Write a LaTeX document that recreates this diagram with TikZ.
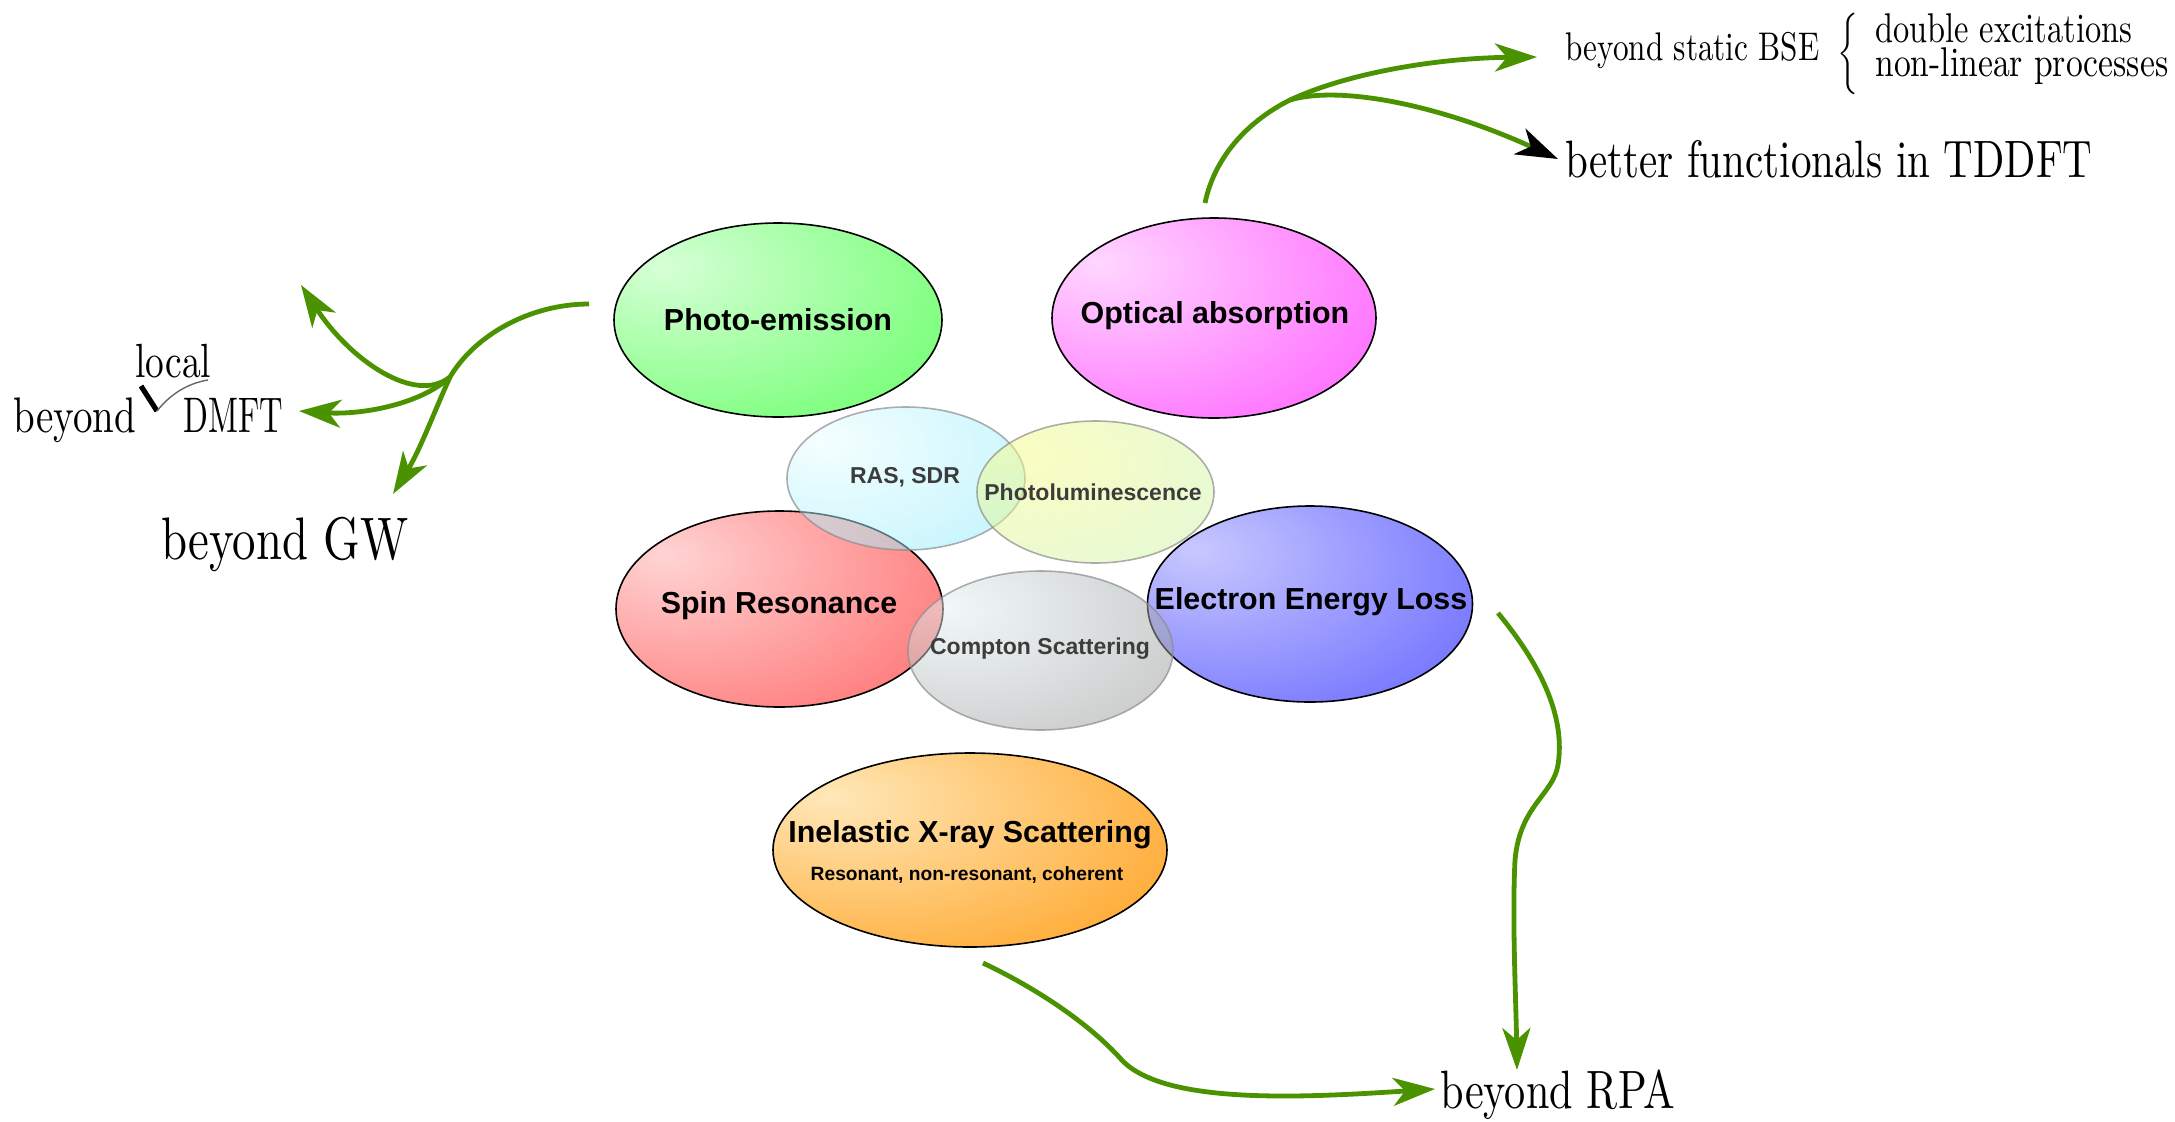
\documentclass[tikz,border=0pt]{standalone}
\usepackage{fontspec}
\newfontfamily\sansf{Liberation Sans}
\usetikzlibrary{shapes.geometric,arrows.meta}
\makeatletter
\pgfdeclareradialshading[tikz@radial@inner,tikz@radial@outer]{glow}{\pgfpoint{-18bp}{14bp}}{color(0bp)=(tikz@radial@inner);color(50bp)=(tikz@radial@outer);color(100bp)=(tikz@radial@outer)}
\makeatother
\definecolor{arrgreen}{RGB}{74,146,0}
\definecolor{labgrey}{RGB}{60,60,60}
\definecolor{peIn}{RGB}{215,255,215}\definecolor{peOut}{RGB}{100,255,100}
\definecolor{oaIn}{RGB}{255,215,255}\definecolor{oaOut}{RGB}{255,90,255}
\definecolor{srIn}{RGB}{255,212,212}\definecolor{srOut}{RGB}{255,105,105}
\definecolor{eeIn}{RGB}{200,200,255}\definecolor{eeOut}{RGB}{100,100,255}
\definecolor{ixIn}{RGB}{255,232,185}\definecolor{ixOut}{RGB}{255,158,25}
\definecolor{raIn}{RGB}{235,255,255}\definecolor{raOut}{RGB}{125,232,250}
\definecolor{plIn}{RGB}{248,252,130}\definecolor{plOut}{RGB}{200,242,180}
\definecolor{csIn}{RGB}{228,242,242}\definecolor{csOut}{RGB}{135,135,135}
\newcommand\cnd[3]{\scalebox{#1}[#2]{\fontsize{10}{12}\selectfont #3}}
\tikzset{
  big/.style={ellipse, draw=black, line width=0.8pt, inner sep=0pt},
  pale/.style={ellipse, draw=black!45, line width=0.8pt, inner sep=0pt, fill opacity=0.5, draw opacity=0.7},
  biglab/.style={font=\sansf\bfseries\fontsize{15.2}{18}\selectfont, inner sep=0pt},
  sublab/.style={font=\sansf\bfseries\fontsize{9.6}{12}\selectfont, inner sep=0pt},
  palelab/.style={font=\sansf\bfseries\fontsize{11.5}{14}\selectfont, text=labgrey, inner sep=0pt},
  serif/.style={inner sep=0pt, anchor=base west},
  gline/.style={draw=arrgreen, line width=2.4pt},
  garrow/.style={gline, -{Stealth[length=21pt,width=14pt,inset=6pt]}},
  barrow/.style={gline, -{Stealth[length=21pt,width=14pt,inset=6pt,color=black]}},
}
\begin{document}
\begin{tikzpicture}[x=0.5pt,y=-0.5pt]
\useasboundingbox (0,0) rectangle (2175,1121);
% opaque ellipses
\node[big, minimum width=164pt, minimum height=97pt, inner color=peIn, outer color=peOut, shading=glow] (pe) at (778,320) {};
\node[big, minimum width=162pt, minimum height=100pt, inner color=oaIn, outer color=oaOut, shading=glow] (oa) at (1214,318) {};
\node[big, minimum width=163.5pt, minimum height=98pt, inner color=srIn, outer color=srOut, shading=glow] (sr) at (779.5,609) {};
\node[big, minimum width=162.5pt, minimum height=98pt, inner color=eeIn, outer color=eeOut, shading=glow] (ee) at (1310,604) {};
\node[big, minimum width=197pt, minimum height=97pt, inner color=ixIn, outer color=ixOut, shading=glow] (ix) at (970,850) {};
% translucent ellipses
\node[pale, minimum width=119pt, minimum height=71.5pt, inner color=raIn, outer color=raOut, shading=glow] (ra) at (906,478.5) {};
\node[pale, minimum width=118.5pt, minimum height=71pt, inner color=plIn, outer color=plOut, shading=glow] (pl) at (1095.5,492) {};
\node[pale, minimum width=132.5pt, minimum height=79.5pt, inner color=csIn, outer color=csOut, shading=glow] (cs) at (1040.5,650.5) {};
% labels
\node[biglab] (pel) at (pe.center) {Photo-emission};
\node[biglab] (oal) at (1215,316) {Optical absorption};
\node[biglab] (srl) at (779,606) {Spin Resonance};
\node[biglab] (eel) at (1311,602) {Electron Energy Loss};
\node[biglab] (ixl) at (970,835) {Inelastic X-ray Scattering};
\node[sublab] (ixs) at (967,875) {Resonant, non-resonant, coherent};
\node[palelab] (ral) at (905,477) {RAS, SDR};
\node[palelab] (pll) at (1093,492) {Photoluminescence};
\node[palelab] (csl) at (1040,649) {Compton Scattering};
% serif texts
\node[serif] (gw) at (161,559) {\cnd{2.34}{3.0}{beyond GW}};
\node[serif] (rpa) at (1440,1108) {\cnd{2.11}{2.7}{beyond RPA}};
\node[serif] (td) at (1565,177) {\cnd{2.05}{2.63}{better functionals in TDDFT}};
\node[serif] (bse) at (1565,60) {\cnd{1.56}{2.0}{beyond static BSE}};
\node[serif] (dbl) at (1875,42) {\cnd{1.62}{2.08}{double excitations}};
\node[serif] (nl) at (1875,76) {\cnd{1.68}{2.08}{non-linear processes}};
\node[inner sep=0pt] (brace) at (1850,54) {\scalebox{1.4}[1.7]{$\left\{\rule[-8pt]{0pt}{16pt}\right.$}};
\node[serif] (loc) at (135,377) {\cnd{1.87}{2.4}{local}};
\node[serif] (bey) at (13,432) {\cnd{1.95}{2.5}{beyond}};
\node[serif] (dmft) at (183,432) {\cnd{1.63}{2.5}{DMFT}};
% tick mark
\coordinate (tk1) at (141,386);
\coordinate (tk2) at (157,411);
\coordinate (tk3) at (208,380);
\draw[line width=2.6pt] (tk1) -- (tk2);
\draw[line width=0.7pt, black!60] (tk2) .. controls (172,392) and (190,383) .. (tk3);
% photo-emission arrows
\coordinate (pe-out) at (589,304);
\coordinate (pe-j) at (450,377);
\coordinate (tipA) at (301,285);
\coordinate (tipB) at (299,411);
\coordinate (tipC) at (393,494);
\draw[gline] (pe-out) .. controls (530,304) and (475,335) .. (pe-j);
\draw[garrow] (pe-j) .. controls (415,405) and (350,360) .. (tipA);
\draw[garrow] (pe-j) .. controls (420,405) and (360,415) .. (tipB);
\draw[garrow] (pe-j) .. controls (435,410) and (420,450) .. (tipC);
% optical absorption arrows
\coordinate (oa-out) at (1205,203);
\coordinate (oa-j) at (1290,100);
\coordinate (tipBSE) at (1537,57);
\coordinate (tipTD) at (1558,159);
\draw[gline] (oa-out) .. controls (1215,155) and (1250,120) .. (oa-j);
\draw[garrow] (oa-j) .. controls (1350,72) and (1440,58) .. (tipBSE);
\draw[barrow] (oa-j) .. controls (1340,85) and (1440,105) .. (tipTD);
% EEL arrow
\coordinate (ee-out) at (1498,613);
\coordinate (tipR1) at (1517,1070);
\draw[garrow] (ee-out) .. controls (1545,670) and (1565,720) .. (1558,765) .. controls (1553,795) and (1520,805) .. (1515,860) .. controls (1512,920) and (1516,1000) .. (tipR1);
% IXS arrow
\coordinate (ix-out) at (983,963);
\coordinate (tipR2) at (1435,1089);
\draw[garrow] (ix-out) .. controls (1040,990) and (1090,1025) .. (1120,1058) .. controls (1160,1105) and (1300,1098) .. (tipR2);
\end{tikzpicture}
\end{document}
